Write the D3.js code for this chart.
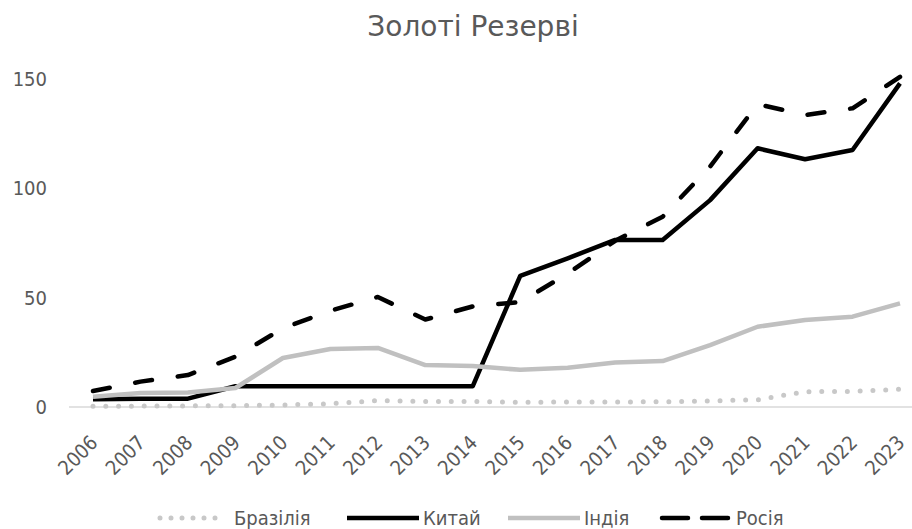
<!DOCTYPE html>
<html>
<head>
<meta charset="utf-8">
<script src="https://cdn.jsdelivr.net/npm/d3@7"></script>
<style>
  body { margin: 0; background: #fff; }
  text { fill: #595959; }
</style>
</head>
<body>
<div id="chart"></div>
<script>
const years = ['2006','2007','2008','2009','2010','2011','2012','2013','2014','2015','2016','2017','2018','2019','2020','2021','2022','2023'];
const brazil = [0.3, 0.4, 0.5, 0.6, 0.9, 1.5, 2.9, 2.5, 2.5, 2.1, 2.3, 2.3, 2.4, 2.8, 3.3, 7.0, 7.1, 8.1];
const china  = [3.6, 3.8, 3.8, 9.5, 9.5, 9.5, 9.5, 9.5, 9.5, 60, 68, 76.4, 76.4, 94.6, 118.3, 113.3, 117.5, 148];
const india  = [4.7, 6.4, 6.6, 8.7, 22.4, 26.5, 27, 19.2, 18.7, 17, 18, 20.3, 21, 28.3, 36.7, 39.8, 41.3, 47.4];
const russia = [7.3, 11.6, 14.6, 23, 36, 44, 50.3, 40, 46, 48, 61, 76, 87, 110, 138.5, 133.5, 136.6, 151];
const yTicks = [0, 50, 100, 150];
const seriesNames = ['Бразілія', 'Китай', 'Індія', 'Росія'];

const series = [
  {name: seriesNames[0], values: brazil, color: '#c8c8c8', width: 5, dash: '0,12.8', cap: 'round'},
  {name: seriesNames[1], values: china,  color: '#000000', width: 4.5, dash: null, cap: 'butt'},
  {name: seriesNames[2], values: india,  color: '#c0c0c0', width: 4.5, dash: null, cap: 'butt'},
  {name: seriesNames[3], values: russia, color: '#000000', width: 4.5, dash: '17,26', cap: 'round'}
];

const W = 912, H = 529;
const labelFont = '"DejaVu Sans Condensed", "DejaVu Sans", sans-serif';
const svg = d3.select('#chart').append('svg')
  .attr('width', W).attr('height', H);

const x = d3.scalePoint().domain(years).range([93, 900]);
const y = d3.scaleLinear().domain([0, 150]).range([407, 79]);

// title
svg.append('text')
  .attr('x', 473).attr('y', 36)
  .attr('text-anchor', 'middle')
  .style('font-family', '"DejaVu Sans", sans-serif')
  .style('font-size', '28px')
  .text('Золоті Резерві');

// y labels
svg.append('g').selectAll('text')
  .data(yTicks)
  .join('text')
  .attr('x', 47).attr('y', d => y(d))
  .attr('dy', '0.35em')
  .attr('text-anchor', 'end')
  .style('font-family', labelFont)
  .style('font-size', '20px')
  .text(d => d);

// x axis line
svg.append('line')
  .attr('x1', 69).attr('x2', 912)
  .attr('y1', y(0)).attr('y2', y(0))
  .attr('stroke', '#d9d9d9').attr('stroke-width', 1.5);

// x labels
svg.append('g').selectAll('text')
  .data(years)
  .join('text')
  .attr('transform', d => `translate(${x(d) + 1},${y(0) + 32}) rotate(-45)`)
  .attr('text-anchor', 'end')
  .attr('dy', '0.35em')
  .style('font-family', labelFont)
  .style('font-size', '20px')
  .text(d => d);

// lines
const line = d3.line()
  .x((d, i) => x(years[i]))
  .y(d => y(d));

svg.append('g').selectAll('path')
  .data(series)
  .join('path')
  .attr('d', d => line(d.values))
  .attr('fill', 'none')
  .attr('stroke', d => d.color)
  .attr('stroke-width', d => d.width)
  .attr('stroke-dasharray', d => d.dash)
  .attr('stroke-linecap', d => d.cap)
  .attr('stroke-linejoin', 'round');

// legend
const legendX = [158, 347, 508, 660];
const legend = svg.append('g').attr('transform', 'translate(0,518)');
const item = legend.selectAll('g')
  .data(series)
  .join('g')
  .attr('transform', (d, i) => `translate(${legendX[i]},0)`);
item.append('line')
  .attr('x1', d => d.cap === 'round' ? 2 : 0)
  .attr('x2', d => d.cap === 'round' ? 68 : 72)
  .attr('stroke', d => d.color)
  .attr('stroke-width', d => d.width)
  .attr('stroke-dasharray', d => d.dash === '17,26' ? '26,14' : (d.dash ? '0,11' : null))
  .attr('stroke-linecap', d => d.cap);
item.append('text')
  .attr('x', 76).attr('dy', '0.35em')
  .style('font-family', labelFont)
  .style('font-size', '20px')
  .text(d => d.name);
</script>
</body>
</html>
